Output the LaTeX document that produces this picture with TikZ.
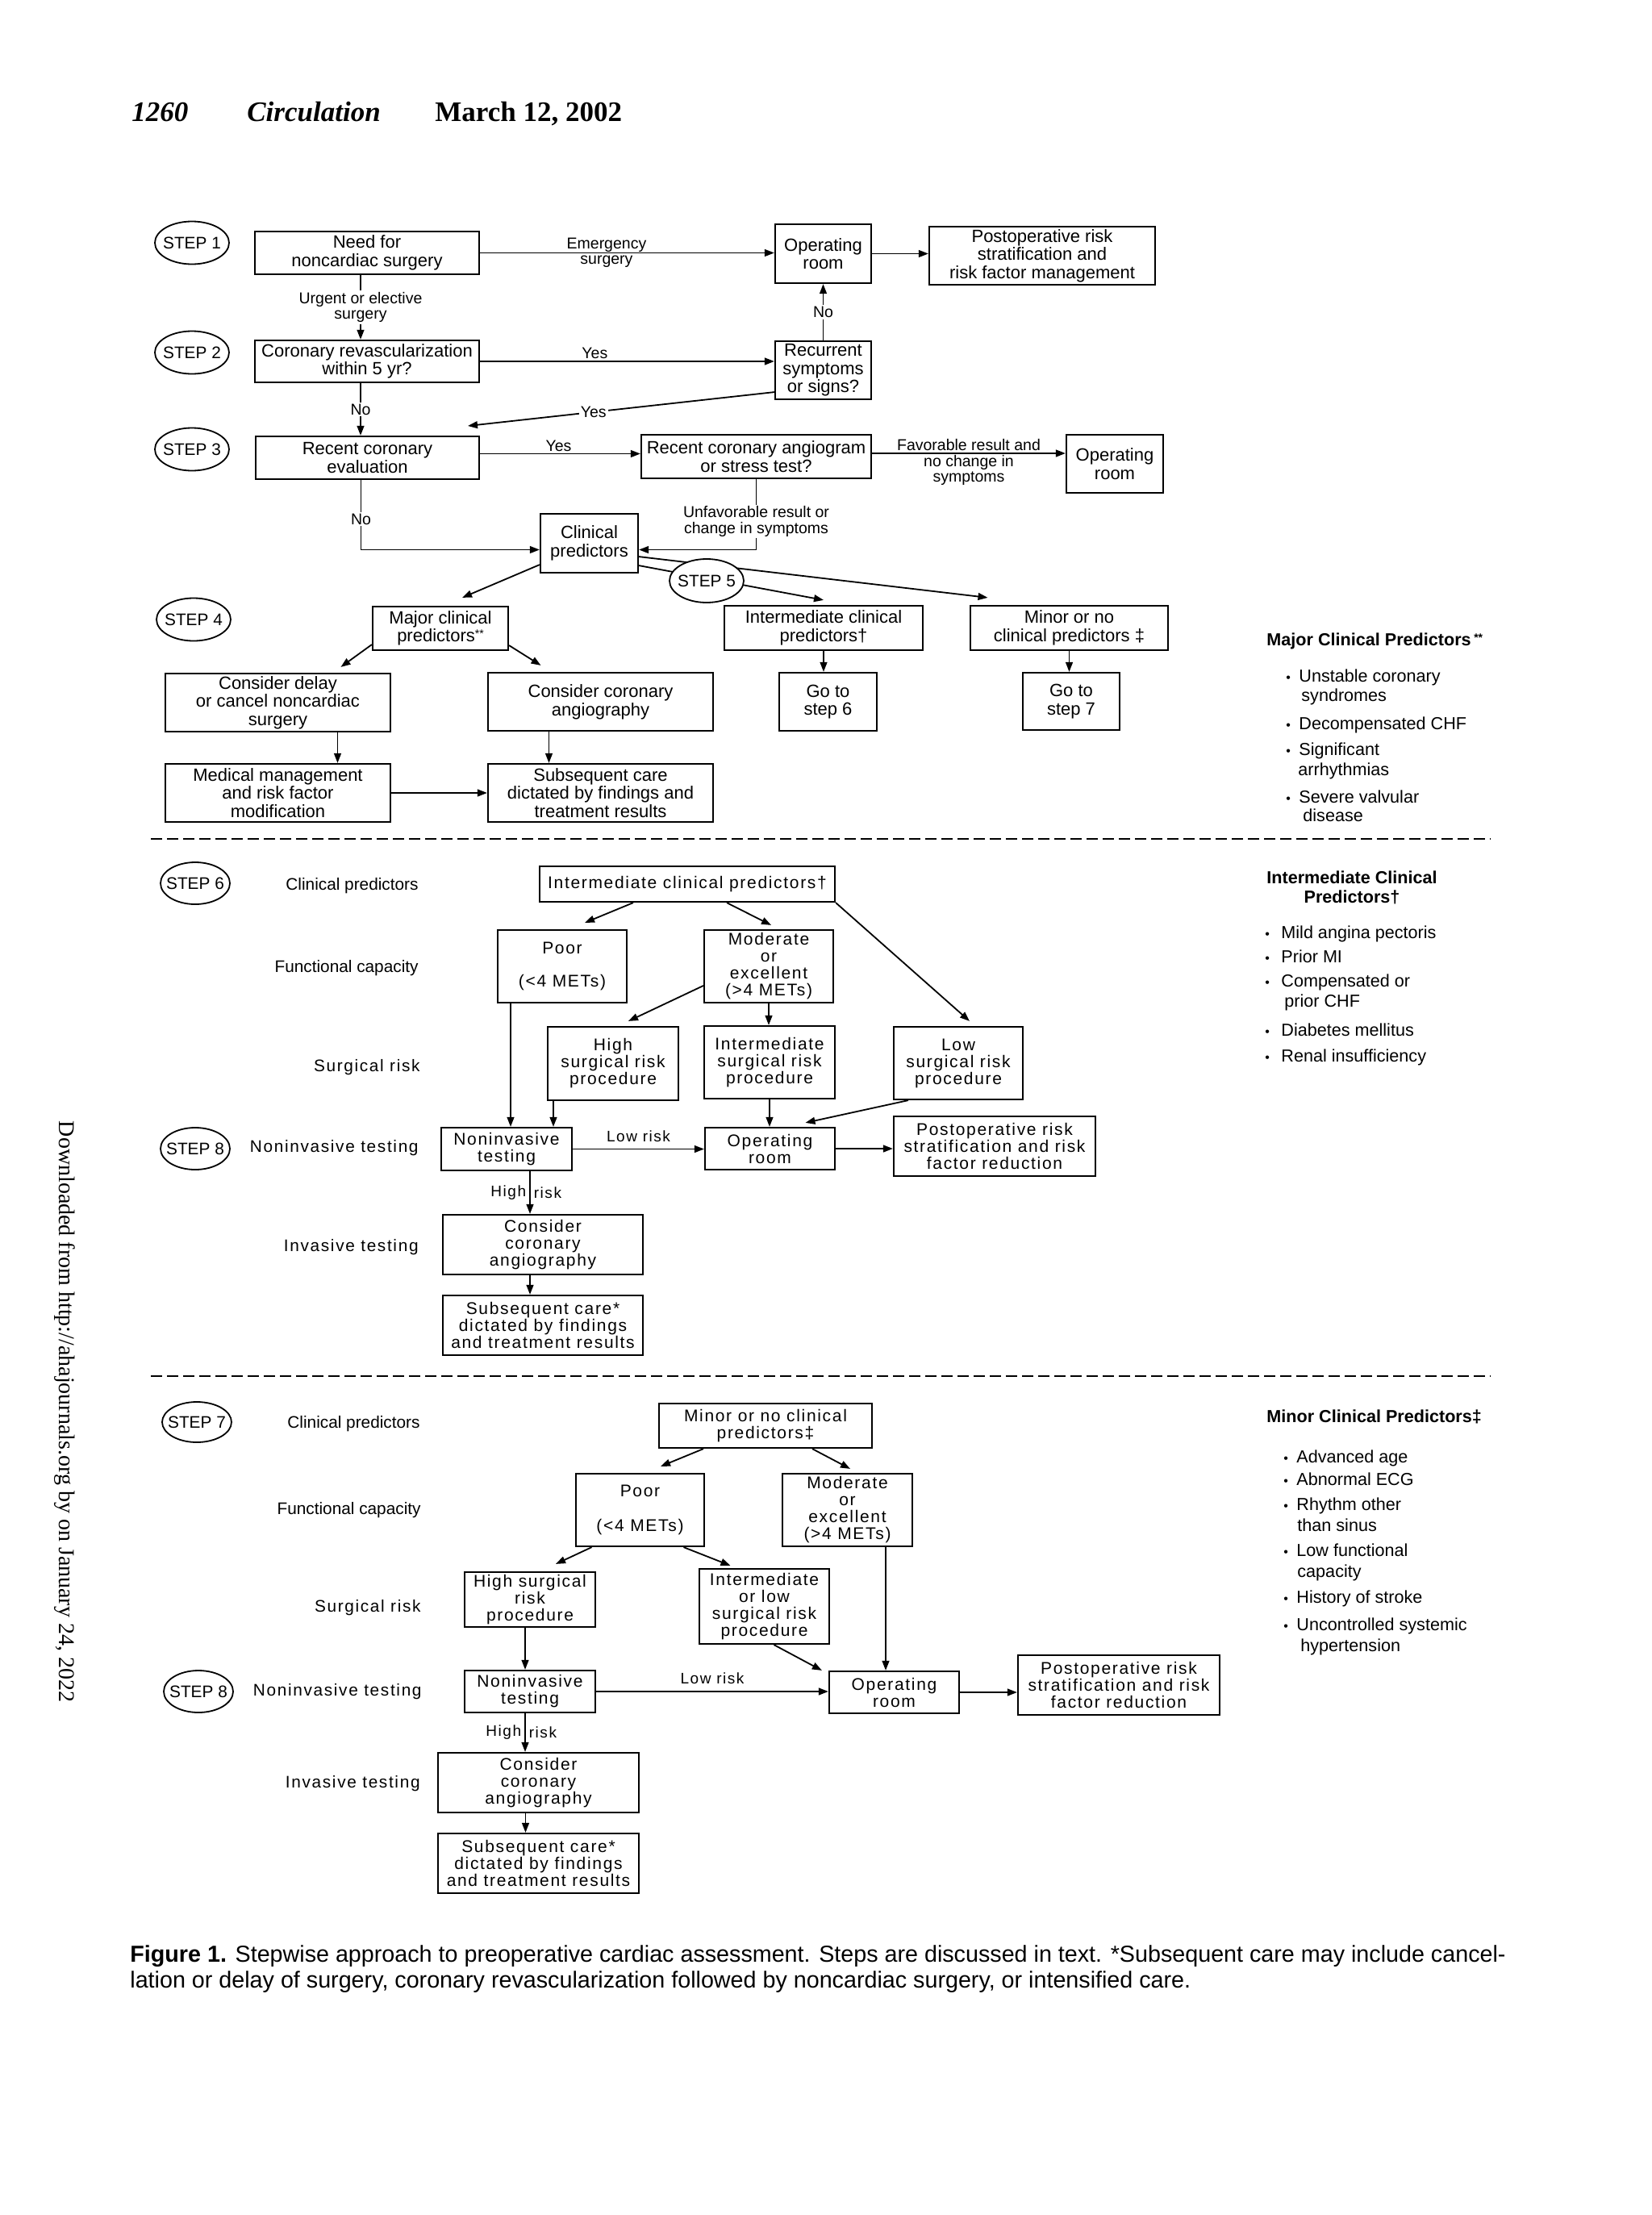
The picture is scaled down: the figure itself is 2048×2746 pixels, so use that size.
\documentclass[tikz,border=0pt]{standalone}
\usepackage{fontspec}
\setmainfont{Liberation Sans}
\newfontfamily\seriffam{Liberation Serif}
\newfontfamily\spaced[LetterSpace=8]{Liberation Sans}
\usetikzlibrary{shapes.geometric,arrows.meta}
\newcommand\mkbox[7][tbox]{\node[#1, minimum width={(#5-#3)*0.5pt}, minimum height={(#6-#4)*0.5pt}] (#2) at ({(#3+#5)/2},{(#4+#6)/2}) {#7};}
\newcommand\stars{\raisebox{2.5pt}{\fontsize{7pt}{7pt}\selectfont **}}
\begin{document}
\begin{tikzpicture}[x=0.5pt,y=-0.5pt,
  tbox/.style={draw, line width=1.1pt, inner sep=0pt, align=center, font=\fontsize{11pt}{11.3pt}\selectfont},
  bbox/.style={draw, line width=1.1pt, inner sep=0pt, align=center, font=\spaced\fontsize{10.5pt}{10.5pt}\selectfont},
  stepc/.style={draw, ellipse, line width=0.9pt, inner xsep=-4pt, inner ysep=0pt, minimum width=46pt, minimum height=26.5pt, fill=white, font=\fontsize{10.4pt}{12pt}\selectfont},
  arr/.style={-{Triangle[length=6pt,width=4.4pt]}, line width=0.9pt},
  lbl/.style={font=\fontsize{9.75pt}{9.8pt}\selectfont, align=center, inner sep=1pt},
  wlbl/.style={lbl, fill=white},
  blbl/.style={font=\spaced\fontsize{9.5pt}{9.5pt}\selectfont, inner sep=2pt},
  llab/.style={anchor=east, inner sep=0pt, font=\fontsize{10.4pt}{10.4pt}\selectfont},
  llabs/.style={anchor=east, inner sep=0pt, font=\spaced\fontsize{10.4pt}{10.4pt}\selectfont},
  lst/.style={anchor=base west, inner sep=0pt, font=\fontsize{10.8pt}{12pt}\selectfont},
  lsth/.style={anchor=base west, inner sep=0pt, font=\bfseries\fontsize{10.8pt}{12pt}\selectfont},
  bul/.style={anchor=base west, inner sep=0pt, font=\fontsize{8pt}{8pt}\selectfont},
  dashln/.style={line width=1.3pt, dash pattern=on 7pt off 3pt},
]
\useasboundingbox (0,0) rectangle (2048,2746);

% header
\node[anchor=base west, inner sep=0pt, font=\seriffam\bfseries\itshape\fontsize{17.5pt}{18pt}\selectfont] (pg) at (163,150) {1260};
\node[anchor=base west, inner sep=0pt, font=\seriffam\bfseries\itshape\fontsize{17.5pt}{18pt}\selectfont] (jr) at (306,150) {Circulation};
\node[anchor=base west, inner sep=0pt, font=\seriffam\bfseries\fontsize{17.5pt}{18pt}\selectfont] (dt) at (539,150) {March 12, 2002};

% side text
\node[rotate=-90, inner sep=0pt, font=\seriffam\fontsize{14pt}{14pt}\selectfont] (dl) at (80,1750) {Downloaded from http://ahajournals.org by on January 24, 2022};

% ---------- steps 1-5 ----------
\node[stepc] (s1) at (238,301) {STEP 1};
\node[stepc] (s2) at (238,437) {STEP 2};
\node[stepc] (s3) at (238,557) {STEP 3};
\node[stepc] (s4) at (240,768) {STEP 4};

\mkbox{need}{316}{287}{594}{340}{Need for\\noncardiac surgery}
\mkbox{op1}{961}{278}{1080}{351}{Operating\\room}
\mkbox{post1}{1152}{281}{1432}{353}{Postoperative risk\\stratification and\\risk factor management}
\mkbox{revasc}{316}{422}{594}{474}{Coronary revascularization\\within 5 yr?}
\mkbox{recur}{961}{423}{1080}{495}{Recurrent\\symptoms\\or signs?}
\mkbox{recent}{317}{541}{594}{594}{Recent coronary\\evaluation}
\mkbox{angio}{795}{539}{1080}{593}{Recent coronary angiogram\\or stress test?}
\mkbox{op2}{1322}{539}{1442}{611}{Operating\\room}
\mkbox{clin}{670}{637}{791}{710}{Clinical\\predictors}
\mkbox{major}{462}{752}{630}{806}{Major clinical\\predictors\stars}
\mkbox{inter}{898}{751}{1144}{806}{Intermediate clinical\\predictors†}
\mkbox{minor}{1203}{751}{1448}{806}{Minor or no\\clinical predictors ‡}
\mkbox{delay}{205}{835}{484}{907}{Consider delay\\or cancel noncardiac\\surgery}
\mkbox{cangio}{605}{834}{884}{906}{Consider coronary\\angiography}
\mkbox{go6}{966}{834}{1087}{906}{Go to\\step 6}
\mkbox{go7}{1268}{834}{1388}{905}{Go to\\step 7}
\mkbox{medm}{205}{947}{484}{1019}{Medical management\\and risk factor\\modification}
\mkbox{subs1}{605}{947}{884}{1019}{Subsequent care\\dictated by findings and\\treatment results}

\coordinate (n1s) at ([xshift=-4pt]need.south);
\coordinate (r2s) at ([xshift=-4pt]revasc.south);
\coordinate (re3e) at ([yshift=2.5pt]recent.east);
\coordinate (a3e) at ([yshift=2pt]angio.east);
\coordinate (yesend) at (580,528);

\draw[arr] (need.east) -- node[lbl, pos=0.43] {Emergency\\surgery} (need.east -| op1.west);
\draw[arr] (op1.east) -- (op1.east -| post1.west);
\draw[arr] (n1s) -- node[wlbl] {Urgent or elective\\surgery} (n1s |- revasc.north);
\draw[arr] (revasc.east) -- node[lbl, above, pos=0.39] {Yes} (revasc.east -| recur.west);
\draw[arr] (recur.north) -- node[wlbl] {No} (recur.north |- op1.south);
\draw[arr] ([yshift=5pt]recur.south west) -- node[wlbl, pos=0.59] {Yes} (yesend);
\draw[arr] (r2s) -- node[wlbl] {No} (r2s |- recent.north);
\draw[arr] (re3e) -- node[lbl, above, pos=0.49] {Yes} (re3e -| angio.west);
\draw[arr] (a3e) -- node[lbl, pos=0.5, yshift=-5.5pt] {Favorable result and\\no change in\\symptoms} (a3e -| op2.west);
\draw[arr] (angio.south) |- node[wlbl, pos=0.3] {Unfavorable result or\\change in symptoms} ([yshift=-4pt]clin.east);
\draw[arr] ([xshift=-4pt]recent.south) |- node[wlbl, pos=0.28] {No} ([yshift=-4pt]clin.west);

\draw[arr] ([yshift=5.5pt]clin.south west) -- ([xshift=13.5pt,yshift=5pt]major.north);
\draw[arr] ([yshift=5pt]clin.south east) -- ([yshift=3pt]inter.north);
\draw[arr] ([yshift=10.5pt]clin.south east) -- ([xshift=-50.5pt,yshift=4.5pt]minor.north);
\node[stepc, minimum width=46pt, minimum height=27pt] (s5) at (876,720) {STEP 5};

\draw[arr] ([yshift=4pt]major.south west) -- ([xshift=39pt,yshift=3.5pt]delay.north);
\draw[arr] ([yshift=3.5pt]major.south east) -- ([xshift=-37pt,yshift=4pt]cangio.north);
\draw[arr] (inter.south) -- (inter.south |- go6.north);
\draw[arr] (minor.south) -- (minor.south |- go7.north);
\draw[arr] ([xshift=37pt]delay.south) -- ([xshift=37pt]medm.north);
\draw[arr] ([xshift=-32pt]cangio.south) -- ([xshift=-32pt]subs1.north);
\draw[arr] (medm.east) -- (medm.east -| subs1.west);

% dashed separators
\coordinate (d1a) at (187,1040); \coordinate (d1b) at (1848,1040);
\coordinate (d2a) at (187,1706); \coordinate (d2b) at (1848,1706);
\draw[dashln] (d1a) -- (d1b);
\draw[dashln] (d2a) -- (d2b);

% major list
\node[lsth] (mh) at (1570,800) {Major Clinical Predictors\,\stars};
\node[bul] at (1594,845) {•}; \node[lst] at (1610,845) {Unstable coronary};
\node[lst] at (1613,869) {syndromes};
\node[bul] at (1594,904) {•}; \node[lst] at (1610,904) {Decompensated CHF};
\node[bul] at (1594,936) {•}; \node[lst] at (1610,936) {Significant};
\node[lst] at (1609,961) {arrhythmias};
\node[bul] at (1594,995) {•}; \node[lst] at (1610,995) {Severe valvular};
\node[lst] at (1615,1018) {disease};

% ---------- step 6 ----------
\node[stepc, minimum width=43pt, minimum height=26pt] (s6) at (242,1095) {STEP 6};
\node[stepc, minimum width=43pt, minimum height=26pt] (s8a) at (242,1424) {STEP 8};
\node[llab] (l61) at (519,1098) {Clinical predictors};
\node[llab] (l62) at (519,1200) {Functional capacity};
\node[llabs] (l63) at (521,1323) {Surgical risk};
\node[llabs] (l64) at (519,1423) {Noninvasive testing};
\node[llabs] (l65) at (519,1546) {Invasive testing};

\mkbox[bbox]{ic6}{669}{1074}{1035}{1118}{Intermediate clinical predictors†}
\mkbox[bbox]{poor6}{617}{1153}{777}{1243}{Poor\\[10pt](<4 METs)}
\mkbox[bbox]{mod6}{873}{1153}{1033}{1243}{Moderate\\or\\excellent\\(>4 METs)}
\mkbox[bbox]{high6}{679}{1273}{841}{1364}{High\\surgical risk\\procedure}
\mkbox[bbox]{int6}{873}{1272}{1035}{1362}{Intermediate\\surgical risk\\procedure}
\mkbox[bbox]{low6}{1108}{1273}{1268}{1363}{Low\\surgical risk\\procedure}
\mkbox[bbox]{ni6}{547}{1398}{709}{1451}{Noninvasive\\testing}
\mkbox[bbox]{or6}{874}{1398}{1035}{1450}{Operating\\room}
\mkbox[bbox]{po6}{1108}{1384}{1358}{1458}{Postoperative risk\\stratification and risk\\factor reduction}
\mkbox[bbox]{cc6}{549}{1506}{797}{1580}{Consider\\coronary\\angiography}
\mkbox[bbox]{sc6}{549}{1606}{797}{1680}{Subsequent care*\\dictated by findings\\and treatment results}

\coordinate (p6s) at ([xshift=-32pt]poor6.south);
\coordinate (h6s) at ([xshift=-37pt]high6.south);
\coordinate (n6s) at ([xshift=14.5pt]ni6.south);
\coordinate (c6s) at ([xshift=-8pt]cc6.south);

\draw[arr] ([xshift=-33.5pt]ic6.south) -- ([xshift=14pt,yshift=4pt]poor6.north);
\draw[arr] ([xshift=24.5pt]ic6.south) -- ([xshift=1.5pt,yshift=2.5pt]mod6.north);
\draw[arr] (ic6.south east) -- ([xshift=7pt,yshift=3pt]low6.north);
\draw[arr] ([yshift=-12pt]mod6.west) -- ([xshift=9.5pt,yshift=3pt]high6.north);
\draw[arr] (mod6.south) -- (mod6.south |- int6.north);
\draw[arr] (p6s) -- (p6s |- ni6.north);
\draw[arr] (h6s) -- (h6s |- ni6.north);
\draw[arr] (int6.south) -- (int6.south |- or6.north);
\draw[arr] ([xshift=9.5pt]low6.south west) -- ([xshift=22pt,yshift=2.5pt]or6.north);
\draw[arr] (ni6.east) -- node[blbl, above, pos=0.5, yshift=2pt] {Low risk} (ni6.east -| or6.west);
\draw[arr] (or6.east) -- (or6.east -| po6.west);
\draw[arr] (n6s) -- node[blbl, left, pos=0.5] {High} node[blbl, right, pos=0.5] {risk} (n6s |- cc6.north);
\draw[arr] (c6s) -- (c6s |- sc6.north);

% intermediate list
\node[lsth, anchor=center, align=center, font=\bfseries\fontsize{10.8pt}{12pt}\selectfont] (ih) at (1676,1100) {Intermediate Clinical\\Predictors†};
\node[bul] at (1568,1163) {•}; \node[lst] at (1588,1163) {Mild angina pectoris};
\node[bul] at (1568,1193) {•}; \node[lst] at (1588,1193) {Prior MI};
\node[bul] at (1568,1223) {•}; \node[lst] at (1588,1223) {Compensated or};
\node[lst] at (1592,1248) {prior CHF};
\node[bul] at (1568,1284) {•}; \node[lst] at (1588,1284) {Diabetes mellitus};
\node[bul] at (1568,1316) {•}; \node[lst] at (1588,1316) {Renal insufficiency};

% ---------- step 7 ----------
\node[stepc, minimum width=43pt, minimum height=25pt] (s7) at (244,1763) {STEP 7};
\node[stepc, minimum width=43pt, minimum height=26pt] (s8b) at (246,2097) {STEP 8};
\node[llab] (l71) at (521,1765) {Clinical predictors};
\node[llab] (l72) at (522,1872) {Functional capacity};
\node[llabs] (l73) at (522,1993) {Surgical risk};
\node[llabs] (l74) at (523,2097) {Noninvasive testing};
\node[llabs] (l75) at (521,2211) {Invasive testing};

\mkbox[bbox]{mn7}{817}{1740}{1081}{1795}{Minor or no clinical\\predictors‡}
\mkbox[bbox]{poor7}{714}{1827}{873}{1917}{Poor\\[11pt](<4 METs)}
\mkbox[bbox]{mod7}{970}{1827}{1131}{1917}{Moderate\\or\\excellent\\(>4 METs)}
\mkbox[bbox]{high7}{576}{1949}{738}{2017}{High surgical\\risk\\procedure}
\mkbox[bbox]{iol7}{867}{1945}{1028}{2038}{Intermediate\\or low\\surgical risk\\procedure}
\mkbox[bbox]{ni7}{576}{2071}{738}{2123}{Noninvasive\\testing}
\mkbox[bbox]{or7}{1028}{2072}{1189}{2124}{Operating\\room}
\mkbox[bbox]{po7}{1262}{2052}{1512}{2126}{Postoperative risk\\stratification and risk\\factor reduction}
\mkbox[bbox]{cc7}{543}{2173}{792}{2247}{Consider\\coronary\\angiography}
\mkbox[bbox]{sc7}{543}{2273}{792}{2347}{Subsequent care*\\dictated by findings\\and treatment results}

\coordinate (h7s) at ([xshift=-3pt]high7.south);
\coordinate (m7s) at ([xshift=23.75pt]mod7.south);
\coordinate (n7s) at ([xshift=-3pt]ni7.south);
\coordinate (c7s) at ([xshift=-8pt]cc7.south);

\draw[arr] ([xshift=-38.5pt]mn7.south) -- ([xshift=12.75pt,yshift=4pt]poor7.north);
\draw[arr] ([xshift=29pt]mn7.south) -- ([xshift=1.75pt,yshift=2.5pt]mod7.north);
\draw[arr] ([xshift=-30pt]poor7.south) -- ([xshift=16pt,yshift=4.5pt]high7.north);
\draw[arr] ([xshift=27pt]poor7.south) -- ([xshift=-21pt,yshift=1.5pt]iol7.north);
\draw[arr] (h7s) -- (h7s |- ni7.north);
\draw[arr] ([xshift=6pt]iol7.south) -- ([xshift=-4pt]or7.north west);
\draw[arr] (m7s) -- (m7s |- or7.north);
\draw[arr] (ni7.east) -- node[blbl, above, pos=0.5, yshift=2pt] {Low risk} (ni7.east -| or7.west);
\draw[arr] (or7.east) -- (or7.east -| po7.west);
\draw[arr] (n7s) -- node[blbl, left, pos=0.5] {High} node[blbl, right, pos=0.5] {risk} (n7s |- cc7.north);
\draw[arr] (c7s) -- (c7s |- sc7.north);

% minor list
\node[lsth] (nh) at (1570,1763) {Minor Clinical Predictors‡};
\node[bul] at (1591,1813) {•}; \node[lst] at (1607,1813) {Advanced age};
\node[bul] at (1591,1841) {•}; \node[lst] at (1607,1841) {Abnormal ECG};
\node[bul] at (1591,1872) {•}; \node[lst] at (1607,1872) {Rhythm other};
\node[lst] at (1608,1898) {than sinus};
\node[bul] at (1591,1929) {•}; \node[lst] at (1607,1929) {Low functional};
\node[lst] at (1608,1955) {capacity};
\node[bul] at (1591,1987) {•}; \node[lst] at (1607,1987) {History of stroke};
\node[bul] at (1591,2021) {•}; \node[lst] at (1607,2021) {Uncontrolled systemic};
\node[lst] at (1612,2047) {hypertension};

% caption
\node[anchor=base west, inner sep=0pt, font=\fontsize{14.35pt}{16pt}\selectfont] (cap1) at (161,2432) {\textbf{Figure 1.} Stepwise approach to preoperative cardiac assessment. Steps are discussed in text. *Subsequent care may include cancel-};
\node[anchor=base west, inner sep=0pt, font=\fontsize{14.35pt}{16pt}\selectfont] (cap2) at (161,2464) {lation or delay of surgery, coronary revascularization followed by noncardiac surgery, or intensified care.};
\end{tikzpicture}
\end{document}
